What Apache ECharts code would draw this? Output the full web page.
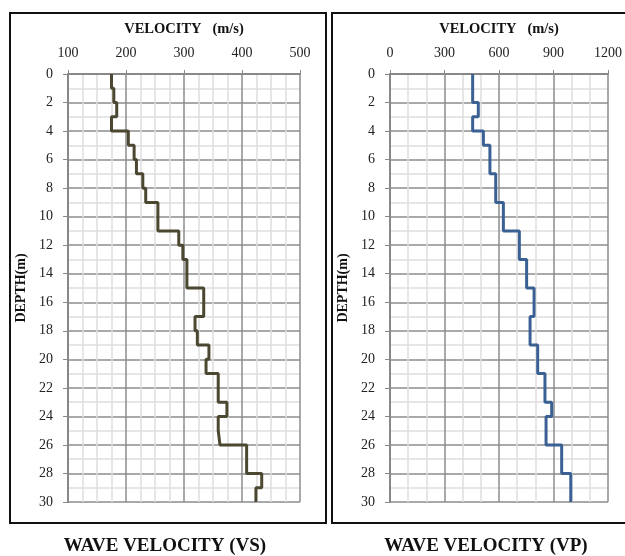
<!DOCTYPE html>
<html>
<head>
<meta charset="utf-8">
<script src="https://cdn.jsdelivr.net/npm/echarts@6/dist/echarts.min.js"></script>
<style>
  html, body { margin: 0; padding: 0; background: #fff; }
  #chart { width: 625px; height: 556px; }
</style>
</head>
<body>
<div id="chart"></div>
<script>
// layer boundaries (m) and velocity of each layer (m/s)
const vsTop = [0, 1, 2, 3, 4, 5, 6, 7, 8, 9, 11, 12, 13, 15, 17, 18, 19, 20, 21, 23, 24, 25, 26, 28, 29];
const vsBottom = [1, 2, 3, 4, 5, 6, 7, 8, 9, 11, 12, 13, 15, 17, 18, 19, 20, 21, 23, 24, 25, 26, 28, 29, 30];
const vsValues = [175, 179, 184, 175, 204, 214, 218, 229, 234, 255, 291, 298, 305, 334, 319, 323, 343, 338, 359, 374, 359, 362, 408, 434, 424];

const vpTop = [0, 2, 3, 4, 5, 7, 9, 11, 13, 15, 17, 19, 21, 23, 24, 26, 28];
const vpBottom = [2, 3, 4, 5, 7, 9, 11, 13, 15, 17, 19, 21, 23, 24, 26, 28, 30];
const vpValues = [455, 486, 455, 514, 550, 582, 624, 712, 752, 793, 771, 813, 853, 890, 859, 945, 995];

const serif = '"Liberation Serif", "DejaVu Serif", serif';

// step profile: each layer drawn as a vertical segment, joined by horizontal steps
const profile = (tops, bottoms, vals) => {
  const pts = [];
  vals.forEach((v, k) => {
    pts.push([v, tops[k]]);
    pts.push([v, bottoms[k]]);
  });
  return pts;
};

const xAxisFor = (gridIndex, min, max, interval, minorSplit) => ({
  gridIndex,
  type: 'value',
  position: 'top',
  min,
  max,
  interval,
  name: 'VELOCITY   (m/s)',
  nameLocation: 'middle',
  nameGap: 37,
  nameTextStyle: { fontFamily: serif, fontWeight: 'bold', fontSize: 14.5, color: '#111' },
  axisLine: { show: true, lineStyle: { color: '#888', width: 2 } },
  axisTick: { show: true, inside: false, length: 4, lineStyle: { color: '#888' } },
  axisLabel: { fontFamily: serif, fontSize: 14, color: '#222', margin: 14, formatter: (v) => String(v) },
  splitLine: { show: true, lineStyle: { color: '#8c8c8c', width: 1.5 } },
  minorTick: { show: false, splitNumber: minorSplit },
  minorSplitLine: { show: true, lineStyle: { color: '#dedede', width: 1.5 } },
});

const yAxisFor = (gridIndex) => ({
  gridIndex,
  type: 'value',
  inverse: true,
  min: 0,
  max: 30,
  interval: 2,
  name: 'DEPTH(m)',
  nameLocation: 'middle',
  nameGap: 40,
  nameRotate: 90,
  nameTextStyle: { fontFamily: serif, fontWeight: 'bold', fontSize: 14, color: '#111' },
  axisLine: { show: true, lineStyle: { color: '#888', width: 2 } },
  axisTick: { show: true, inside: false, length: 5, lineStyle: { color: '#888' } },
  axisLabel: { fontFamily: serif, fontSize: 14, color: '#222', margin: 15 },
  splitLine: { show: true, lineStyle: { color: '#8c8c8c', width: 1.5 } },
  minorTick: { show: false, splitNumber: 2 },
  minorSplitLine: { show: true, lineStyle: { color: '#dedede', width: 1.5 } },
});

const chart = echarts.init(document.getElementById('chart'));

chart.setOption({
  animation: false,
  backgroundColor: '#fff',
  grid: [
    { left: 68, top: 74, width: 232, height: 428 },
    { left: 390, top: 74, width: 218, height: 428 },
  ],
  xAxis: [
    xAxisFor(0, 100, 500, 100, 4),
    xAxisFor(1, 0, 1200, 300, 3),
  ],
  yAxis: [yAxisFor(0), yAxisFor(1)],
  series: [
    {
      name: 'VS',
      type: 'line',
      xAxisIndex: 0,
      yAxisIndex: 0,
      showSymbol: false,
      data: profile(vsTop, vsBottom, vsValues),
      lineStyle: { color: '#4b4730', width: 3 },
    },
    {
      name: 'VP',
      type: 'line',
      xAxisIndex: 1,
      yAxisIndex: 1,
      showSymbol: false,
      data: profile(vpTop, vpBottom, vpValues),
      lineStyle: { color: '#3a6094', width: 3 },
    },
  ],
  graphic: {
    elements: [
      {
        type: 'rect',
        shape: { x: 10, y: 13, width: 316, height: 510 },
        style: { fill: 'none', stroke: '#111', lineWidth: 2 },
      },
      {
        type: 'rect',
        shape: { x: 332, y: 13, width: 310, height: 510 },
        style: { fill: 'none', stroke: '#111', lineWidth: 2 },
      },
      {
        type: 'text',
        x: 165,
        y: 546,
        style: {
          text: 'WAVE VELOCITY (VS)',
          fontFamily: serif,
          fontWeight: 'bold',
          fontSize: 19,
          fill: '#111',
          align: 'center',
          verticalAlign: 'middle',
        },
      },
      {
        type: 'text',
        x: 486,
        y: 546,
        style: {
          text: 'WAVE VELOCITY (VP)',
          fontFamily: serif,
          fontWeight: 'bold',
          fontSize: 19,
          fill: '#111',
          align: 'center',
          verticalAlign: 'middle',
        },
      },
    ],
  },
});
</script>
</body>
</html>
